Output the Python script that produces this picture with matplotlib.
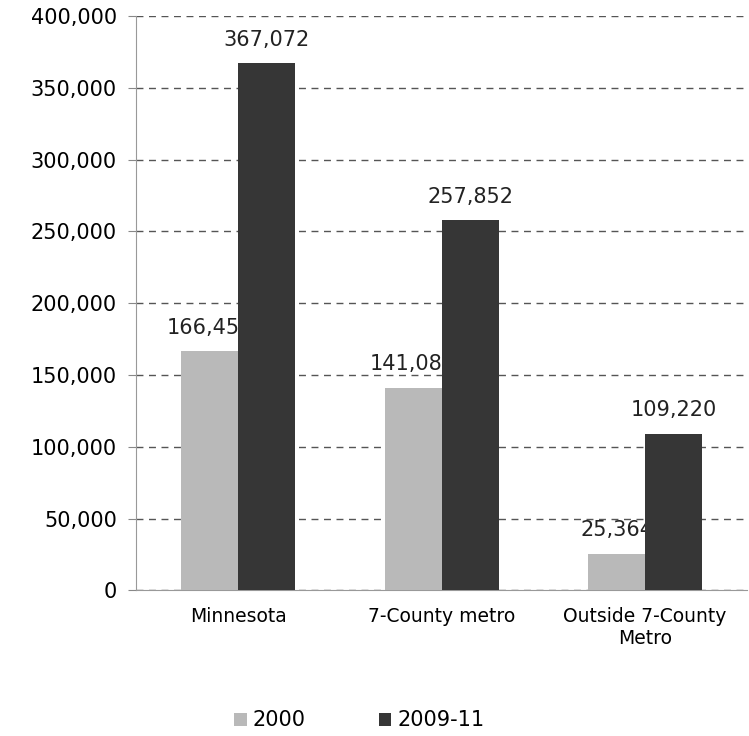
import numpy as np
import matplotlib.pyplot as plt
from matplotlib.ticker import FuncFormatter

categories = ['Minnesota', '7-County metro', 'Outside 7-County\nMetro']
series_names = ['2000', '2009-11']
values_2000 = [166452, 141088, 25364]
values_2011 = [367072, 257852, 109220]
colors = ['#b9b9b9', '#363636']


def plot_chart():
    fig = plt.figure(figsize=(7.49, 7.36), dpi=100)
    ax = fig.add_axes([0.182, 0.198, 0.815, 0.780])

    x = np.arange(len(categories))
    w = 0.28
    b1 = ax.bar(x - w / 2, values_2000, w, color=colors[0], label=series_names[0], zorder=3)
    b2 = ax.bar(x + w / 2, values_2011, w, color=colors[1], label=series_names[1], zorder=3)

    # value labels, drawn under the bars like in the original
    for bars in (b1, b2):
        for r in bars:
            v = r.get_height()
            ax.text(r.get_x() + r.get_width() / 2, v + 9500, f'{v:,.0f}',
                    ha='center', va='bottom', fontsize=15, color='#222222', zorder=2)

    ax.set_xlim(-0.5, 2.5)
    ax.set_ylim(0, 400000)
    ax.set_yticks(np.arange(0, 400001, 50000))
    ax.yaxis.set_major_formatter(FuncFormatter(lambda v, p: f'{v:,.0f}'))
    ax.set_xticks(x)
    ax.set_xticklabels(categories, fontsize=13.5)
    ax.tick_params(axis='y', labelsize=15, length=6, color='#888888', pad=8)
    ax.tick_params(axis='x', length=0, pad=12)

    ax.grid(axis='y', linestyle=(0, (5, 4)), color='#555555', linewidth=1, zorder=0)
    for s in ['top', 'right']:
        ax.spines[s].set_visible(False)
    ax.spines['left'].set_color('#999999')
    ax.spines['bottom'].set_color('#999999')

    fig.legend(loc='lower center', bbox_to_anchor=(0.48, -0.018), ncol=2, frameon=False,
               fontsize=15, handlelength=0.6, handleheight=0.6, handletextpad=0.3,
               columnspacing=3.5)

    fig.savefig('out.png', dpi=100)


def main():
    plot_chart()


if __name__ == "__main__":
    main()
